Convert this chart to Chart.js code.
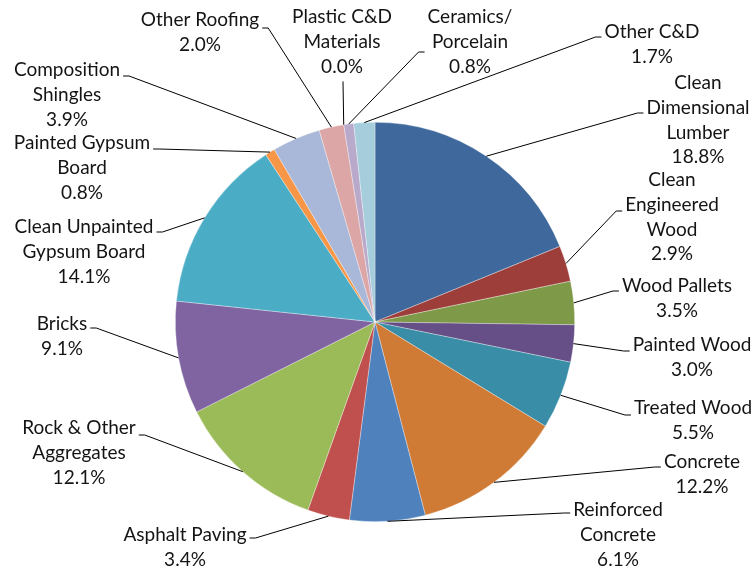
<!DOCTYPE html>
<html>
<head>
<meta charset="utf-8">
<script src="https://cdn.jsdelivr.net/npm/chart.js@4"></script>
<style>
  body { margin: 0; background: #fff; }
  #wrap { width: 754px; height: 569px; }
</style>
</head>
<body>
<div id="wrap"><canvas id="pie" width="754" height="569"></canvas></div>
<script>
const categories = [
  "Clean Dimensional Lumber", "Clean Engineered Wood", "Wood Pallets", "Painted Wood",
  "Treated Wood", "Concrete", "Reinforced Concrete", "Asphalt Paving",
  "Rock & Other Aggregates", "Bricks", "Clean Unpainted Gypsum Board", "Painted Gypsum Board",
  "Composition Shingles", "Other Roofing", "Plastic C&D Materials", "Ceramics/ Porcelain", "Other C&D"
]
const shares = [18.8, 2.9, 3.5, 3.0, 5.5, 12.2, 6.1, 3.4, 12.1, 9.1, 14.1, 0.8, 3.9, 2.0, 0.0, 0.8, 1.7]
const colors = [
  "#3f699c", "#9e3e3b", "#7e9a48", "#664e86", "#3a8da6", "#d07b35",
  "#4f81bd", "#c0504d", "#9bbb59", "#8064a2", "#4bacc6", "#f79646",
  "#a9b8d8", "#dba6a5", "#c6d7a2", "#b9aacb", "#a5cddb"
]

// label layout: words per row, text centre x, first row y, side the leader attaches to, attach offset
const labelLayout = [
  { rows: [1, 1, 1], x: 698, y: 83, side: "L", dy: 30 },
  { rows: [1, 1, 1], x: 672, y: 180, side: "L", dy: 31 },
  { rows: [2], x: 677, y: 286, side: "L", dy: 5 },
  { rows: [2], x: 692, y: 345, side: "L", dy: 6 },
  { rows: [2], x: 693, y: 408, side: "L", dy: 7 },
  { rows: [1], x: 702, y: 462, side: "L", dy: 5 },
  { rows: [1, 1], x: 618, y: 510, side: "L", dy: 3 },
  { rows: [2], x: 185, y: 535, side: "R", dy: 3 },
  { rows: [3, 1], x: 79, y: 428, side: "R", dy: 7 },
  { rows: [1], x: 62, y: 324, side: "R", dy: 4 },
  { rows: [2, 2], x: 84, y: 227, side: "R", dy: 5 },
  { rows: [2, 1], x: 82, y: 143, side: "R", dy: 6 },
  { rows: [1, 1], x: 67, y: 70, side: "R", dy: 6 },
  { rows: [2], x: 200, y: 20, side: "R", dy: 8 },
  { rows: [2, 1], x: 342, y: 17, side: "B", dy: 0 },
  { rows: [1, 1], x: 470, y: 17, side: "L", dy: 35 },
  { rows: [2], x: 652, y: 32, side: "L", dy: 5 }
]

const FONT = '19px Lato, "Liberation Sans", sans-serif'
const LINE_H = 24.7

function wrapLabel(name, rows) {
  const words = name.split(" ")
  const out = []
  let i = 0
  for (const n of rows) {
    out.push(words.slice(i, i + n).join(" "))
    i += n
  }
  return out
}

const leaderLabels = {
  id: "leaderLabels",
  afterDatasetsDraw(chart) {
    const ctx = chart.ctx
    const meta = chart.getDatasetMeta(0)
    ctx.save()
    ctx.font = FONT
    ctx.textAlign = "center"
    ctx.textBaseline = "middle"
    meta.data.forEach((arc, i) => {
      const spot = labelLayout[i]
      const lines = wrapLabel(categories[i], spot.rows)
      lines.push(shares[i].toFixed(1) + "%")
      const maxW = Math.max(...lines.map(l => ctx.measureText(l).width))

      const mid = (arc.startAngle + arc.endAngle) / 2
      const sx = arc.x + Math.cos(mid) * arc.outerRadius
      const sy = arc.y + Math.sin(mid) * arc.outerRadius

      ctx.strokeStyle = "#000"
      ctx.lineWidth = 1
      ctx.beginPath()
      ctx.moveTo(sx, sy)
      if (spot.side === "B") {
        ctx.lineTo(spot.x + 1, spot.y + (lines.length - 1) * LINE_H + 15)
      } else {
        const dir = spot.side === "L" ? -1 : 1
        const ax = spot.x + dir * (maxW / 2 + 3)
        const ay = spot.y + spot.dy
        ctx.lineTo(ax + dir * 6, ay)
        ctx.lineTo(ax, ay)
      }
      ctx.stroke()

      ctx.fillStyle = "#141414"
      lines.forEach((l, k) => ctx.fillText(l, spot.x, spot.y + k * LINE_H))
    })
    ctx.restore()
  }
}

new Chart(document.getElementById("pie"), {
  type: "pie",
  data: {
    labels: categories,
    datasets: [{
      data: shares,
      backgroundColor: colors,
      borderColor: "rgba(255,255,255,0.55)",
      borderWidth: 0.6
    }]
  },
  options: {
    responsive: false,
    animation: false,
    layout: { padding: { left: 175, right: 179, top: 122, bottom: 47 } },
    plugins: { legend: { display: false }, tooltip: { enabled: false } }
  },
  plugins: [leaderLabels]
})
</script>
</body>
</html>
